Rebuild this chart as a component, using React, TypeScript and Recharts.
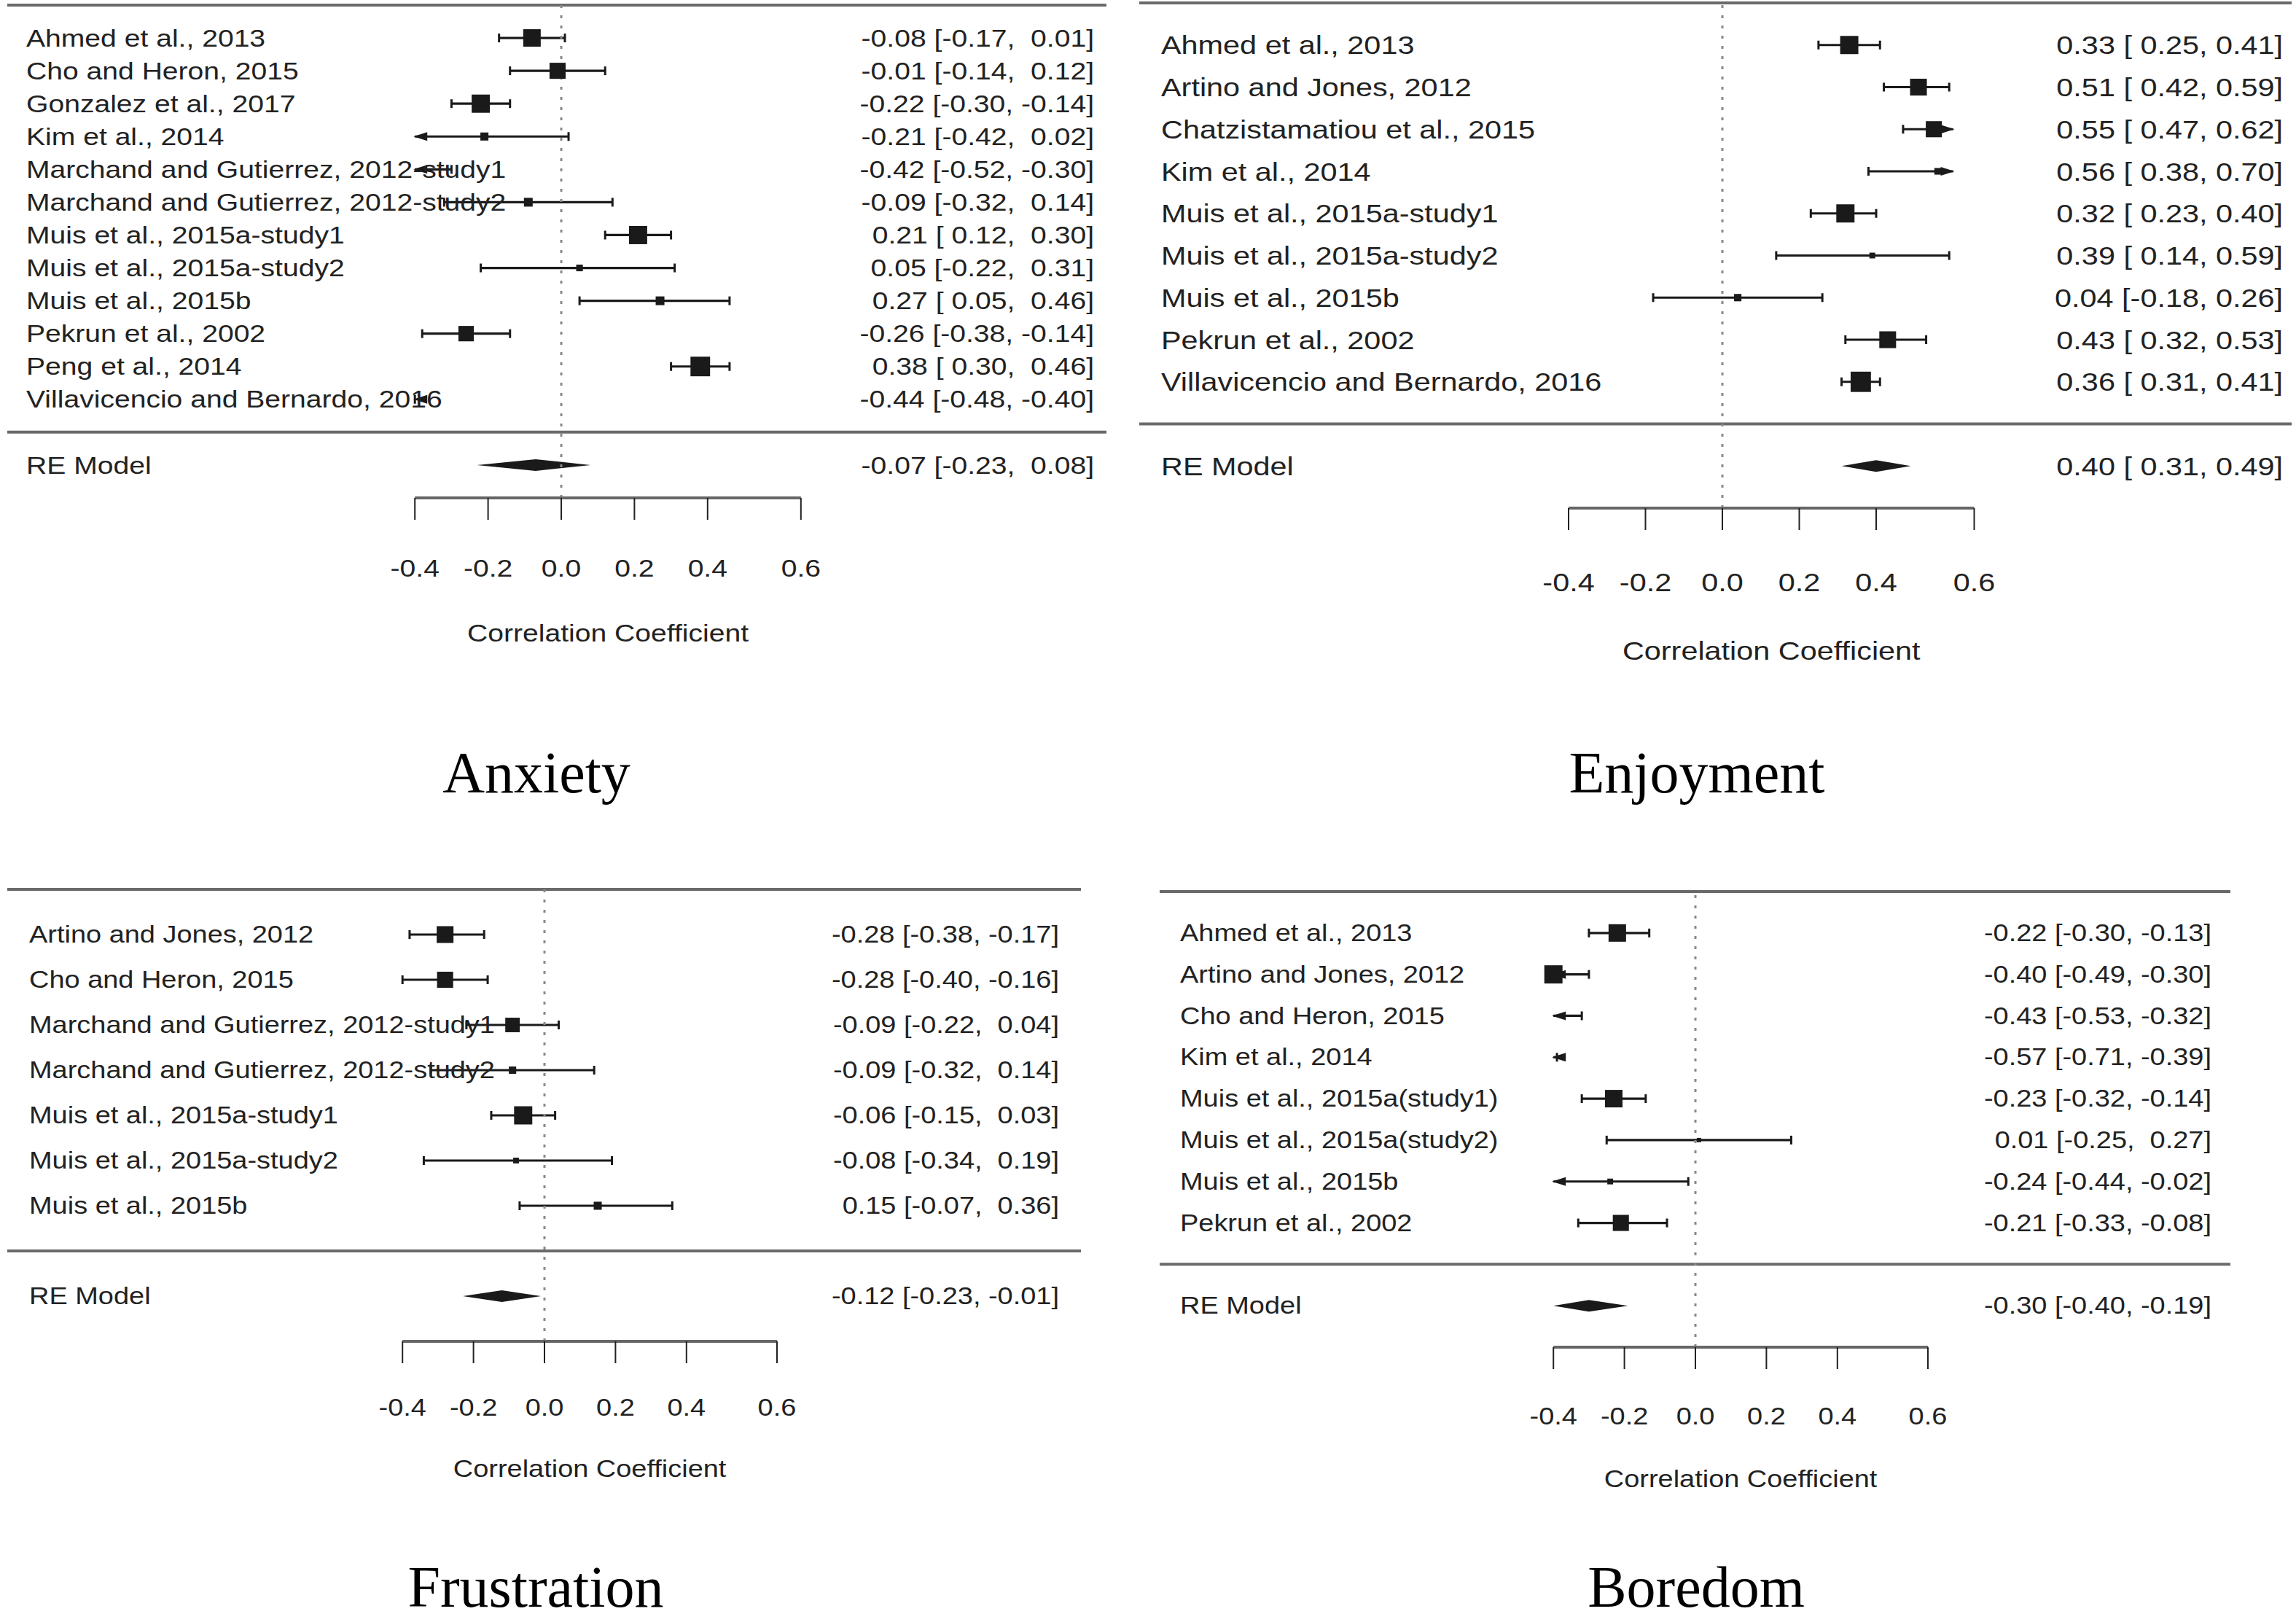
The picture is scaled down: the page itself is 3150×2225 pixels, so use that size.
import React from 'react';
import { ScatterChart, Scatter, XAxis, YAxis, ReferenceLine, ReferenceArea, Label } from 'recharts';

// ---- values ----
const anxietyStudies = [
  'Ahmed et al., 2013',
  'Cho and Heron, 2015',
  'Gonzalez et al., 2017',
  'Kim et al., 2014',
  'Marchand and Gutierrez, 2012-study1',
  'Marchand and Gutierrez, 2012-study2',
  'Muis et al., 2015a-study1',
  'Muis et al., 2015a-study2',
  'Muis et al., 2015b',
  'Pekrun et al., 2002',
  'Peng et al., 2014',
  'Villavicencio and Bernardo, 2016',
];
const anxietyEst = [-0.08, -0.01, -0.22, -0.21, -0.42, -0.09, 0.21, 0.05, 0.27, -0.26, 0.38, -0.44];
const anxietyLow = [-0.17, -0.14, -0.3, -0.42, -0.52, -0.32, 0.12, -0.22, 0.05, -0.38, 0.3, -0.48];
const anxietyHigh = [0.01, 0.12, -0.14, 0.02, -0.3, 0.14, 0.3, 0.31, 0.46, -0.14, 0.46, -0.4];
const anxietyWeights = [10.0, 9.2, 10.4, 4.6, 9.4, 5.0, 10.4, 3.8, 5.0, 8.8, 11.2, 12.2];
const anxietyModel = [-0.07, -0.23, 0.08];

const enjoymentStudies = [
  'Ahmed et al., 2013',
  'Artino and Jones, 2012',
  'Chatzistamatiou et al., 2015',
  'Kim et al., 2014',
  'Muis et al., 2015a-study1',
  'Muis et al., 2015a-study2',
  'Muis et al., 2015b',
  'Pekrun et al., 2002',
  'Villavicencio and Bernardo, 2016',
];
const enjoymentEst = [0.33, 0.51, 0.55, 0.56, 0.32, 0.39, 0.04, 0.43, 0.36];
const enjoymentLow = [0.25, 0.42, 0.47, 0.38, 0.23, 0.14, -0.18, 0.32, 0.31];
const enjoymentHigh = [0.41, 0.59, 0.62, 0.7, 0.4, 0.59, 0.26, 0.53, 0.41];
const enjoymentWeights = [10.4, 9.6, 9.2, 3.8, 10.4, 3.3, 4.2, 9.6, 11.6];
const enjoymentModel = [0.4, 0.31, 0.49];

const frustrationStudies = [
  'Artino and Jones, 2012',
  'Cho and Heron, 2015',
  'Marchand and Gutierrez, 2012-study1',
  'Marchand and Gutierrez, 2012-study2',
  'Muis et al., 2015a-study1',
  'Muis et al., 2015a-study2',
  'Muis et al., 2015b',
];
const frustrationEst = [-0.28, -0.28, -0.09, -0.09, -0.06, -0.08, 0.15];
const frustrationLow = [-0.38, -0.4, -0.22, -0.32, -0.15, -0.34, -0.07];
const frustrationHigh = [-0.17, -0.16, 0.04, 0.14, 0.03, 0.19, 0.36];
const frustrationWeights = [9.6, 9.2, 8.3, 4.2, 10.4, 3.3, 4.6];
const frustrationModel = [-0.12, -0.23, -0.01];

const boredomStudies = [
  'Ahmed et al., 2013',
  'Artino and Jones, 2012',
  'Cho and Heron, 2015',
  'Kim et al., 2014',
  'Muis et al., 2015a(study1)',
  'Muis et al., 2015a(study2)',
  'Muis et al., 2015b',
  'Pekrun et al., 2002',
];
const boredomEst = [-0.22, -0.4, -0.43, -0.57, -0.23, 0.01, -0.24, -0.21];
const boredomLow = [-0.3, -0.49, -0.53, -0.71, -0.32, -0.25, -0.44, -0.33];
const boredomHigh = [-0.13, -0.3, -0.32, -0.39, -0.14, 0.27, -0.02, -0.08];
const boredomWeights = [10.0, 10.4, 8.3, 4.2, 10.0, 2.5, 3.3, 9.2];
const boredomModel = [-0.3, -0.4, -0.19];

const axisTicks = [-0.4, -0.2, 0, 0.2, 0.4, 0.655];
const axisTickLabels = ['-0.4', '-0.2', '0.0', '0.2', '0.4', '0.6'];
const plotLimits = [-0.4, 0.6];

// ---- styling ----
const SANS = '"Liberation Sans", Arial, Helvetica, sans-serif';
const SERIF = '"Liberation Serif", "Times New Roman", serif';
const SX = 1.15;
const INK = '#1a1a1a';
const RULE = '#6a6a6a';

const fmt = (v: number) => (v < 0 ? '-' : '') + Math.abs(v).toFixed(2);
const pad = (s: string, n: number) => '\u00a0'.repeat(Math.max(0, n - s.length)) + s;

function SText({ x, y, anchor, fs, children }: any) {
  return (
    <text
      x={0}
      y={0}
      transform={`translate(${x},${y}) scale(${SX},1)`}
      textAnchor={anchor}
      dominantBaseline="central"
      fontSize={fs}
      fontFamily={SANS}
      fill="#222"
    >
      {children}
    </text>
  );
}

const ciShape = (clipL: boolean, clipR: boolean) => (p: any) => {
  const { x, y, width, height } = p;
  const cy = y + height / 2;
  const xe = x + width;
  return (
    <g>
      <line x1={x} x2={xe} y1={cy} y2={cy} stroke={INK} strokeWidth={3.2} />
      {clipL ? (
        <polygon points={`${x - 2},${cy} ${x + 17},${cy - 6} ${x + 17},${cy + 6}`} fill={INK} />
      ) : (
        <line x1={x} x2={x} y1={cy - 6} y2={cy + 6} stroke={INK} strokeWidth={3} />
      )}
      {clipR ? (
        <polygon points={`${xe + 2},${cy} ${xe - 17},${cy - 6} ${xe - 17},${cy + 6}`} fill={INK} />
      ) : (
        <line x1={xe} x2={xe} y1={cy - 6} y2={cy + 6} stroke={INK} strokeWidth={3} />
      )}
    </g>
  );
};

const diamondShape = (frac: number) => (p: any) => {
  const { x, y, width, height } = p;
  const cy = y + height / 2;
  const px = x + width * frac;
  return <polygon points={`${x},${cy} ${px},${cy - 8} ${x + width},${cy} ${px},${cy + 8}`} fill={INK} />;
};

const squareShape = (p: any) => {
  const s = p.payload.w * 2.4;
  return <rect x={p.cx - s / 2} y={p.cy - s / 2} width={s} height={s} fill={INK} />;
};

type Layout = {
  x0: number; x1: number; zero: number; unit: number; top: number; axisY: number;
  fs: number; inL: number; inR: number; tickDy: number; labDy: number;
};

function ForestPanel({ studies, est, low, high, weights, model, layout }: any) {
  const { x0, x1, zero, unit, top, axisY, fs, inL, inR, tickDy, labDy } = layout as Layout;
  const k = studies.length;
  const rows = studies.map((_: string, i: number) => k - i);
  const [lim0, lim1] = plotLimits;
  const clamp = (v: number) => Math.min(lim1, Math.max(lim0, v));

  const points = est
    .map((e: number, i: number) => ({ x: e, y: rows[i], w: weights[i] }))
    .filter((p: any) => p.x >= lim0 && p.x <= lim1);

  const allEst = [...est, model[0]].map(fmt);
  const allLow = [...low, model[1]].map(fmt);
  const allHigh = [...high, model[2]].map(fmt);
  const wL = Math.max(...allLow.map((s: string) => s.length));
  const wH = Math.max(...allHigh.map((s: string) => s.length));
  const ciText = allEst.map((e: string, i: number) => `${e} [${pad(allLow[i], wL)}, ${pad(allHigh[i], wH)}]`);

  const labelFor = (row: number) => (row === -1 ? 'RE Model' : studies[k - row]);
  const ciFor = (row: number) => (row === -1 ? ciText[k] : ciText[k - row]);

  const padTop = 12;
  const padBottom = 240;
  // axes take 1px each so they get drawn; plot area stays x0..x1
  const W = x1 - x0 + 2;
  const H = axisY - top + padTop + padBottom + 1;
  const xDomain = [(x0 - zero) / unit, (x1 - zero) / unit];
  const yDomain = [-2, k + 1];
  const yTicks = [...rows, -1];

  return (
    <div style={{ position: 'absolute', left: x0 - 1, top: top - padTop }}>
      <ScatterChart width={W} height={H} margin={{ top: padTop, right: 0, bottom: padBottom, left: 0 }}>
        <XAxis
          type="number"
          dataKey="x"
          domain={xDomain}
          allowDataOverflow
          ticks={axisTicks}
          interval={0}
          height={1}
          axisLine={false}
          tickSize={30}
          tickMargin={0}
          stroke="#222"
          tickLine={{ stroke: '#222', strokeWidth: 2 }}
          tick={(p: any) => (
            <SText x={p.x} y={p.y - 30 + tickDy} anchor="middle" fs={fs}>
              {axisTickLabels[p.index]}
            </SText>
          )}
        />
        <YAxis
          yAxisId="l"
          type="number"
          dataKey="y"
          domain={yDomain}
          allowDataOverflow
          ticks={yTicks}
          interval={0}
          width={1}
          axisLine={false}
          tickLine={false}
          tickSize={0}
          tickMargin={0}
          tick={(p: any) => (
            <SText x={p.x + inL} y={p.y} anchor="start" fs={fs}>
              {labelFor(p.payload.value)}
            </SText>
          )}
        />
        <YAxis
          yAxisId="r"
          orientation="right"
          type="number"
          dataKey="y"
          domain={yDomain}
          allowDataOverflow
          ticks={yTicks}
          interval={0}
          width={1}
          axisLine={false}
          tickLine={false}
          tickSize={0}
          tickMargin={0}
          tick={(p: any) => (
            <SText x={p.x - inR} y={p.y} anchor="end" fs={fs}>
              {ciFor(p.payload.value)}
            </SText>
          )}
        />
        <ReferenceLine yAxisId="l" y={k + 1} stroke={RULE} strokeWidth={4} />
        <ReferenceLine yAxisId="l" y={0} stroke={RULE} strokeWidth={4} />
        <ReferenceLine yAxisId="l" x={0} stroke="#8a8a8a" strokeWidth={3} strokeDasharray="4 10" />
        <ReferenceLine
          yAxisId="l"
          segment={[{ x: axisTicks[0], y: -2 }, { x: axisTicks[axisTicks.length - 1], y: -2 }]}
          stroke="#666"
          strokeWidth={4}
        >
          <Label
            content={(lp: any) => {
              const vb = lp.viewBox || {};
              return (
                <SText x={vb.x + (vb.width || 0) / 2} y={vb.y + labDy} anchor="middle" fs={fs}>
                  Correlation Coefficient
                </SText>
              );
            }}
          />
        </ReferenceLine>
        {studies.map((s: string, i: number) => (
          <ReferenceArea
            key={s + i}
            yAxisId="l"
            x1={clamp(low[i])}
            x2={clamp(high[i])}
            y1={rows[i] - 0.4}
            y2={rows[i] + 0.4}
            shape={ciShape(low[i] < lim0, high[i] > lim1)}
          />
        ))}
        <ReferenceArea
          yAxisId="l"
          x1={model[1]}
          x2={model[2]}
          y1={-1.4}
          y2={-0.6}
          shape={diamondShape((model[0] - model[1]) / (model[2] - model[1]))}
        />
        <Scatter yAxisId="l" data={points} shape={squareShape} isAnimationActive={false} />
      </ScatterChart>
    </div>
  );
}

function Title({ text, cx, baseline }: { text: string; cx: number; baseline: number }) {
  const fs = 80;
  const lh = 60;
  // baseline offset inside a line box of height lh for Liberation Serif
  const base = (lh - 1.107 * fs) / 2 + 0.891 * fs;
  return (
    <div
      style={{
        position: 'absolute',
        left: cx - 400,
        width: 800,
        top: baseline - base,
        fontFamily: SERIF,
        fontSize: fs,
        lineHeight: `${lh}px`,
        textAlign: 'center',
        color: '#000',
      }}
    >
      {text}
    </div>
  );
}

export default function App() {
  return (
    <div style={{ position: 'absolute', left: 0, top: 0, width: 3150, height: 2225, background: '#fff', overflow: 'hidden' }}>
      <ForestPanel
        studies={anxietyStudies}
        est={anxietyEst}
        low={anxietyLow}
        high={anxietyHigh}
        weights={anxietyWeights}
        model={anxietyModel}
        layout={{ x0: 10, x1: 1518, zero: 770, unit: 502, top: 7, axisY: 683, fs: 34, inL: 26, inR: 17, tickDy: 96, labDy: 185 }}
      />
      <ForestPanel
        studies={enjoymentStudies}
        est={enjoymentEst}
        low={enjoymentLow}
        high={enjoymentHigh}
        weights={enjoymentWeights}
        model={enjoymentModel}
        layout={{ x0: 1563, x1: 3144, zero: 2363, unit: 527.5, top: 4, axisY: 697, fs: 36, inL: 30, inR: 12, tickDy: 101, labDy: 195 }}
      />
      <ForestPanel
        studies={frustrationStudies}
        est={frustrationEst}
        low={frustrationLow}
        high={frustrationHigh}
        weights={frustrationWeights}
        model={frustrationModel}
        layout={{ x0: 10, x1: 1483, zero: 747, unit: 487, top: 1220, axisY: 1840, fs: 33, inL: 30, inR: 30, tickDy: 91, labDy: 175 }}
      />
      <ForestPanel
        studies={boredomStudies}
        est={boredomEst}
        low={boredomLow}
        high={boredomHigh}
        weights={boredomWeights}
        model={boredomModel}
        layout={{ x0: 1591, x1: 3060, zero: 2326, unit: 487, top: 1223, axisY: 1848, fs: 33, inL: 28, inR: 26, tickDy: 95, labDy: 181 }}
      />
      <Title text="Anxiety" cx={736} baseline={1087} />
      <Title text="Enjoyment" cx={2328} baseline={1087} />
      <Title text="Frustration" cx={735} baseline={2204} />
      <Title text="Boredom" cx={2327} baseline={2204} />
    </div>
  );
}
